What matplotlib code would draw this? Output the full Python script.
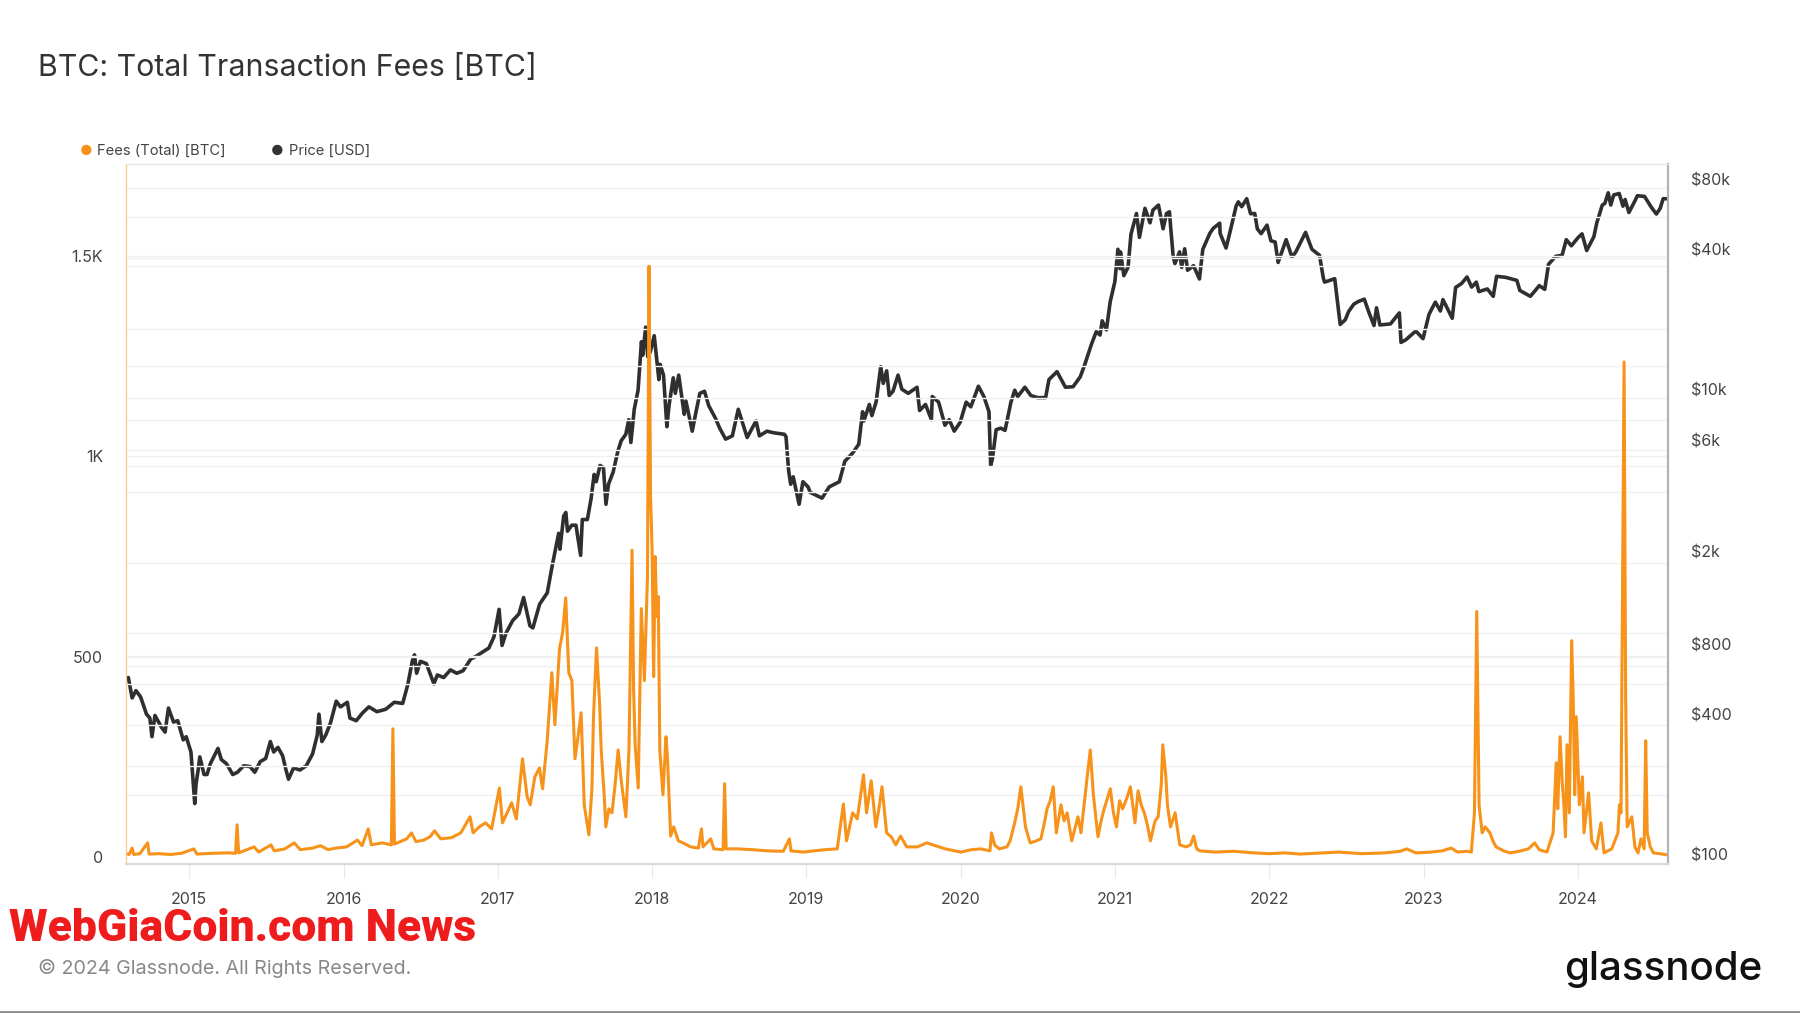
import matplotlib

matplotlib.use("Agg")
import matplotlib.pyplot as plt
import matplotlib.ticker as mticker
import pandas as pd

plt.rcParams["font.family"] = ["Inter", "DejaVu Sans"]

ORANGE = "#F7931A"
DARK = "#2f2f2f"

# BTC price [USD]
price_dates = [
    "2014-08-01", "2014-08-10", "2014-08-19", "2014-08-28", "2014-09-08", "2014-09-22", "2014-09-30",
    "2014-10-05", "2014-10-12", "2014-10-28", "2014-11-05", "2014-11-13", "2014-11-25", "2014-12-05",
    "2014-12-18", "2014-12-25", "2015-01-05", "2015-01-14", "2015-01-17", "2015-01-22", "2015-01-26",
    "2015-02-05", "2015-02-12", "2015-02-20", "2015-03-10", "2015-03-18", "2015-03-30", "2015-04-14",
    "2015-04-25", "2015-05-10", "2015-05-25", "2015-06-05", "2015-06-18", "2015-07-01", "2015-07-12",
    "2015-07-20", "2015-07-30", "2015-08-10", "2015-08-18", "2015-08-24", "2015-09-05", "2015-09-20",
    "2015-10-05", "2015-10-20", "2015-10-31", "2015-11-04", "2015-11-11", "2015-11-20", "2015-12-01",
    "2015-12-15", "2015-12-25", "2016-01-10", "2016-01-16", "2016-01-31", "2016-02-15", "2016-03-01",
    "2016-03-20", "2016-04-10", "2016-04-30", "2016-05-20", "2016-06-01", "2016-06-12", "2016-06-17",
    "2016-06-22", "2016-07-01", "2016-07-15", "2016-08-02", "2016-08-10", "2016-08-25", "2016-09-10",
    "2016-09-25", "2016-10-10", "2016-10-28", "2016-11-10", "2016-11-25", "2016-12-10", "2016-12-22",
    "2017-01-04", "2017-01-11", "2017-01-20", "2017-02-05", "2017-02-20", "2017-03-03", "2017-03-18",
    "2017-03-25", "2017-04-10", "2017-04-28", "2017-05-10", "2017-05-25", "2017-05-28", "2017-06-06",
    "2017-06-11", "2017-06-15", "2017-06-25", "2017-07-05", "2017-07-16", "2017-07-20", "2017-08-01",
    "2017-08-10", "2017-08-17", "2017-08-22", "2017-08-31", "2017-09-08", "2017-09-14", "2017-09-20",
    "2017-10-01", "2017-10-12", "2017-10-20", "2017-10-31", "2017-11-07", "2017-11-12", "2017-11-20",
    "2017-11-29", "2017-12-07", "2017-12-10", "2017-12-17", "2017-12-22", "2017-12-28", "2018-01-06",
    "2018-01-10", "2018-01-17", "2018-01-20", "2018-01-28", "2018-02-05", "2018-02-10", "2018-02-20",
    "2018-02-25", "2018-03-05", "2018-03-18", "2018-03-22", "2018-04-06", "2018-04-15", "2018-04-24",
    "2018-05-05", "2018-05-15", "2018-05-31", "2018-06-10", "2018-06-24", "2018-07-10", "2018-07-24",
    "2018-08-05", "2018-08-14", "2018-09-04", "2018-09-12", "2018-09-30", "2018-10-15", "2018-11-10",
    "2018-11-14", "2018-11-20", "2018-11-25", "2018-12-01", "2018-12-15", "2018-12-24", "2019-01-05",
    "2019-01-10", "2019-02-07", "2019-02-24", "2019-03-20", "2019-04-02", "2019-04-20", "2019-05-05",
    "2019-05-14", "2019-05-17", "2019-05-30", "2019-06-05", "2019-06-15", "2019-06-26", "2019-07-02",
    "2019-07-10", "2019-07-16", "2019-07-25", "2019-08-06", "2019-08-15", "2019-08-30", "2019-09-20",
    "2019-09-26", "2019-10-10", "2019-10-24", "2019-10-26", "2019-11-10", "2019-11-25", "2019-12-05",
    "2019-12-17", "2019-12-31", "2020-01-14", "2020-01-25", "2020-02-12", "2020-02-25", "2020-03-08",
    "2020-03-12", "2020-03-16", "2020-03-25", "2020-04-05", "2020-04-15", "2020-04-29", "2020-05-08",
    "2020-05-15", "2020-06-01", "2020-06-15", "2020-07-01", "2020-07-20", "2020-07-28", "2020-08-16",
    "2020-09-05", "2020-09-23", "2020-10-10", "2020-10-21", "2020-11-05", "2020-11-17", "2020-11-26",
    "2020-12-01", "2020-12-11", "2020-12-20", "2020-12-31", "2021-01-08", "2021-01-13", "2021-01-14",
    "2021-01-22", "2021-02-01", "2021-02-08", "2021-02-21", "2021-02-28", "2021-03-13", "2021-03-25",
    "2021-04-01", "2021-04-14", "2021-04-25", "2021-05-03", "2021-05-10", "2021-05-13", "2021-05-19",
    "2021-05-23", "2021-06-03", "2021-06-08", "2021-06-15", "2021-06-22", "2021-07-06", "2021-07-20",
    "2021-07-28", "2021-08-14", "2021-08-22", "2021-09-06", "2021-09-07", "2021-09-21", "2021-10-01",
    "2021-10-15", "2021-10-20", "2021-10-28", "2021-11-09", "2021-11-18", "2021-11-28", "2021-12-04",
    "2021-12-13", "2021-12-27", "2022-01-05", "2022-01-15", "2022-01-22", "2022-02-10", "2022-02-24",
    "2022-03-05", "2022-03-28", "2022-04-12", "2022-04-30", "2022-05-09", "2022-05-12", "2022-05-20",
    "2022-06-05", "2022-06-13", "2022-06-18", "2022-06-30", "2022-07-08", "2022-07-20", "2022-07-30",
    "2022-08-14", "2022-08-25", "2022-09-06", "2022-09-12", "2022-09-20", "2022-10-15", "2022-11-05",
    "2022-11-09", "2022-11-20", "2022-12-14", "2022-12-31", "2023-01-14", "2023-01-29", "2023-02-10",
    "2023-02-16", "2023-03-10", "2023-03-18", "2023-04-01", "2023-04-14", "2023-04-25", "2023-05-06",
    "2023-05-12", "2023-06-01", "2023-06-15", "2023-06-23", "2023-07-14", "2023-08-10", "2023-08-17",
    "2023-09-11", "2023-10-02", "2023-10-15", "2023-10-24", "2023-11-10", "2023-11-25", "2023-12-05",
    "2023-12-17", "2024-01-02", "2024-01-11", "2024-01-22", "2024-02-08", "2024-02-15", "2024-02-28",
    "2024-03-05", "2024-03-13", "2024-03-19", "2024-03-26", "2024-04-08", "2024-04-17", "2024-04-22",
    "2024-05-01", "2024-05-15", "2024-05-21", "2024-06-07", "2024-06-24", "2024-07-05", "2024-07-14",
    "2024-07-21", "2024-07-29",
]
price_usd = [
    560, 575, 470, 505, 475, 400, 385,
    320, 395, 350, 335, 425, 370, 375,
    310, 320, 275, 165, 200, 230, 262,
    220, 220, 245, 285, 255, 245, 220,
    225, 240, 238, 225, 250, 258, 305,
    275, 288, 265, 230, 210, 235, 230,
    240, 270, 325, 400, 305, 325, 365,
    455, 430, 450, 385, 375, 405, 430,
    410, 420, 450, 445, 535, 680, 720,
    600, 675, 660, 540, 590, 575, 620,
    600, 615, 690, 710, 740, 770, 860,
    1130, 790, 890, 1010, 1080, 1270, 960,
    940, 1190, 1330, 1750, 2400, 2050, 2850,
    2950, 2450, 2600, 2600, 1930, 2750, 2750,
    3400, 4300, 4000, 4700, 4600, 3200, 3900,
    4400, 5400, 6000, 6400, 7400, 5900, 8200,
    9900, 16000, 14000, 18500, 13800, 14500, 17000,
    14500, 11000, 12800, 11500, 6900, 8500, 11200,
    9600, 11500, 7800, 8900, 6600, 8000, 9600,
    9800, 8500, 7500, 6800, 6100, 6300, 8200,
    7000, 6200, 7300, 6300, 6600, 6500, 6400,
    6250, 4500, 3900, 4200, 3200, 4000, 3800,
    3600, 3400, 3800, 4000, 4900, 5300, 5800,
    8000, 7300, 8600, 7700, 8800, 12500, 10600,
    12000, 9400, 9800, 11500, 10000, 9600, 10200,
    8100, 8600, 7400, 9300, 8800, 7000, 7400,
    6600, 7200, 8800, 8400, 10300, 9300, 8000,
    4700, 5000, 6700, 6800, 6650, 8800, 9900,
    9300, 10200, 9400, 9200, 9200, 11000, 11900,
    10200, 10250, 11300, 12800, 15500, 17700, 17100,
    19700, 18000, 23800, 29000, 40000, 33000, 39000,
    30800, 33500, 46500, 57000, 45000, 60000, 52000,
    59000, 62000, 49000, 57000, 58000, 49500, 37000,
    34700, 39000, 33400, 40200, 32500, 34000, 29800,
    40000, 47000, 49300, 51800, 46800, 40500, 48000,
    61500, 64000, 61000, 66000, 56900, 57000, 49000,
    46700, 50800, 43500, 43000, 35100, 44000, 37000,
    39000, 47300, 40000, 37700, 30100, 28900, 29200,
    29900, 22500, 19000, 19900, 21600, 23200, 23800,
    24400, 21400, 18800, 22400, 18900, 19100, 21300,
    15900, 16300, 17800, 16500, 21000, 23700, 21700,
    24300, 20200, 27400, 28500, 30400, 27500, 28900,
    26300, 27000, 25100, 30600, 30300, 29400, 26600,
    25100, 27900, 26900, 34500, 37300, 37700, 44000,
    41400, 45000, 46600, 39500, 45300, 52000, 62000,
    63000, 70000, 62000, 68500, 69500, 61300, 65500,
    57600, 64500, 68000, 67500, 60300, 56700, 60000,
    66000, 66000,
]

# total daily fees [BTC] (decimal years)
fee_t = [
    2014.59, 2014.61, 2014.63, 2014.64, 2014.68, 2014.73, 2014.74, 2014.80, 2014.88, 2014.95,
    2015.03, 2015.05, 2015.15, 2015.25, 2015.30, 2015.31, 2015.32, 2015.42, 2015.45, 2015.53,
    2015.55, 2015.62, 2015.68, 2015.72, 2015.80, 2015.85, 2015.90, 2015.95, 2016.02, 2016.09,
    2016.12, 2016.16, 2016.18, 2016.25, 2016.31, 2016.32, 2016.33, 2016.38, 2016.41, 2016.44,
    2016.47, 2016.52, 2016.56, 2016.59, 2016.63, 2016.70, 2016.76, 2016.82, 2016.84, 2016.88,
    2016.92, 2016.96, 2017.01, 2017.03, 2017.06, 2017.09, 2017.12, 2017.16, 2017.19, 2017.21,
    2017.24, 2017.27, 2017.29, 2017.32, 2017.35, 2017.37, 2017.40, 2017.42, 2017.44, 2017.46,
    2017.48, 2017.50, 2017.52, 2017.54, 2017.56, 2017.59, 2017.61, 2017.62, 2017.64, 2017.66,
    2017.67, 2017.69, 2017.70, 2017.72, 2017.74, 2017.76, 2017.78, 2017.80, 2017.83, 2017.85,
    2017.87, 2017.88, 2017.89, 2017.91, 2017.92, 2017.93, 2017.95, 2017.97, 2017.98, 2017.99,
    2018.00, 2018.01, 2018.02, 2018.03, 2018.04, 2018.05, 2018.07, 2018.09, 2018.10, 2018.12,
    2018.14, 2018.17, 2018.20, 2018.25, 2018.30, 2018.32, 2018.33, 2018.38, 2018.40, 2018.46,
    2018.47, 2018.48, 2018.55, 2018.65, 2018.75, 2018.85, 2018.89, 2018.90, 2018.98, 2019.05,
    2019.12, 2019.20, 2019.24, 2019.26, 2019.28, 2019.30, 2019.33, 2019.35, 2019.37, 2019.39,
    2019.42, 2019.45, 2019.47, 2019.49, 2019.52, 2019.55, 2019.58, 2019.61, 2019.65, 2019.72,
    2019.78, 2019.82, 2019.90, 2020.00, 2020.07, 2020.13, 2020.19, 2020.20, 2020.22, 2020.25,
    2020.30, 2020.32, 2020.35, 2020.37, 2020.39, 2020.42, 2020.45, 2020.49, 2020.52, 2020.54,
    2020.56, 2020.58, 2020.60, 2020.62, 2020.65, 2020.67, 2020.69, 2020.72, 2020.74, 2020.76,
    2020.78, 2020.80, 2020.82, 2020.84, 2020.86, 2020.89, 2020.91, 2020.93, 2020.97, 2020.99,
    2021.01, 2021.03, 2021.05, 2021.08, 2021.10, 2021.13, 2021.15, 2021.17, 2021.19, 2021.21,
    2021.23, 2021.26, 2021.28, 2021.30, 2021.31, 2021.33, 2021.34, 2021.36, 2021.39, 2021.42,
    2021.46, 2021.49, 2021.51, 2021.53, 2021.55, 2021.65, 2021.77, 2021.90, 2022.00, 2022.10,
    2022.20, 2022.35, 2022.45, 2022.60, 2022.75, 2022.85, 2022.89, 2022.95, 2023.05, 2023.12,
    2023.18, 2023.22, 2023.28, 2023.31, 2023.33, 2023.345, 2023.36, 2023.38, 2023.40, 2023.43,
    2023.45, 2023.47, 2023.52, 2023.56, 2023.62, 2023.68, 2023.72, 2023.75, 2023.80, 2023.84,
    2023.86, 2023.87, 2023.885, 2023.90, 2023.91, 2023.92, 2023.93, 2023.945, 2023.96, 2023.97,
    2023.98, 2023.99, 2024.01, 2024.03, 2024.04, 2024.07, 2024.09, 2024.12, 2024.15, 2024.17,
    2024.22, 2024.26, 2024.27, 2024.28, 2024.30, 2024.31, 2024.32, 2024.35, 2024.37, 2024.39,
    2024.41, 2024.43, 2024.44, 2024.45, 2024.47, 2024.49, 2024.53, 2024.58,
]
fee_btc = [
    8, 6, 22, 6, 8, 35, 7, 8, 6, 9,
    20, 7, 9, 10, 9, 80, 10, 25, 12, 30,
    15, 20, 35, 18, 22, 28, 18, 22, 25, 42,
    28, 70, 30, 35, 30, 320, 32, 40, 45, 60,
    38, 42, 50, 65, 45, 48, 60, 100, 60, 75,
    85, 70, 172, 85, 110, 135, 95, 245, 150, 130,
    200, 222, 170, 290, 460, 330, 520, 560, 647, 460,
    440, 245, 300, 360, 130, 55, 170, 350, 522, 380,
    267, 150, 75, 120, 110, 180, 267, 190, 100, 267,
    766, 420, 280, 172, 400, 620, 440, 700, 1475, 900,
    766, 450, 750, 600, 650, 267, 155, 300, 245, 52,
    75, 40, 35, 25, 22, 70, 25, 45, 20, 18,
    183, 20, 20, 18, 15, 14, 45, 15, 12, 15,
    18, 20, 132, 40, 75, 110, 95, 150, 205, 110,
    190, 75, 120, 175, 60, 50, 30, 52, 25, 25,
    35, 30, 20, 12, 18, 20, 15, 60, 30, 20,
    25, 40, 85, 120, 175, 75, 35, 40, 45, 80,
    120, 140, 175, 60, 130, 90, 110, 40, 70, 100,
    60, 130, 200, 267, 155, 50, 90, 120, 170, 110,
    75, 140, 120, 150, 175, 85, 165, 130, 110, 80,
    40, 90, 100, 180, 280, 200, 130, 75, 110, 30,
    25, 30, 52, 20, 15, 12, 14, 10, 8, 10,
    7, 10, 12, 8, 10, 14, 20, 10, 12, 15,
    22, 12, 14, 12, 110, 613, 130, 60, 75, 60,
    40, 25, 15, 10, 14, 20, 35, 18, 12, 60,
    235, 120, 300, 180, 130, 50, 280, 110, 540, 400,
    155, 350, 130, 200, 60, 160, 40, 20, 85, 10,
    20, 60, 130, 110, 1236, 400, 75, 100, 25, 10,
    45, 20, 290, 60, 25, 10, 8, 5,
]

year_ticks = list(range(2015, 2025))
fee_ticks = [0, 500, 1000, 1500]
fee_tick_labels = ["0", "500", "1K", "1.5K"]
price_ticks = [100, 400, 800, 2000, 6000, 10000, 40000, 80000]
price_tick_labels = ["$100", "$400", "$800", "$2k", "$6k", "$10k", "$40k", "$80k"]
# faint horizontal grid levels seen in the chart (fee units)
grid_levels = [155, 227, 330, 432, 477, 502, 560, 735, 912, 975, 1015, 1090, 1145, 1227,
               1317, 1475, 1495, 1597, 1670]

ts = pd.to_datetime(pd.Series(price_dates))
price_t = (ts.dt.year + (ts.dt.dayofyear - 1) / 365.25).tolist()

fig = plt.figure(figsize=(18, 10.13), dpi=100)
ax = fig.add_axes([0.070, 0.147, 0.8567, 0.691])
ax2 = ax.twinx()
ax.set_zorder(ax2.get_zorder() + 1)
ax.patch.set_visible(False)

ax2.plot(price_t, price_usd, color=DARK, lw=2.6, solid_joinstyle="round")
ax.plot(fee_t, fee_btc, color=ORANGE, lw=2.2, solid_joinstyle="round")

ax.set_xlim(2014.59, 2024.585)
ax.set_ylim(-18, 1730)
ax2.set_yscale("log")
ax2.set_ylim(90.6, 93000)

for g in grid_levels + fee_ticks[1:]:
    ax.axhline(g, color="#f0f0f0", lw=1.0, zorder=0)

ax.set_xticks(year_ticks)
ax.set_xticklabels([str(y) for y in year_ticks])
ax.set_yticks(fee_ticks)
ax.set_yticklabels(fee_tick_labels)
ax2.yaxis.set_major_locator(mticker.FixedLocator(price_ticks))
ax2.yaxis.set_minor_locator(mticker.NullLocator())
ax2.set_yticklabels(price_tick_labels)

ax.tick_params(axis="x", length=10, color="#e8e8e8", pad=10, labelsize=11.5, labelcolor="#444444")
ax.tick_params(axis="y", length=0, pad=16.5, labelsize=11.5, labelcolor="#444444")
ax2.tick_params(axis="y", which="both", length=0, pad=16.5, labelsize=11.5, labelcolor="#444444")

for a in (ax, ax2):
    a.spines["top"].set_color("#e6e6e6")
    a.spines["bottom"].set_color("#d9d9d9")
    a.spines["bottom"].set_linewidth(1.5)
    a.spines["right"].set_color("#b3b3b3")
    a.spines["right"].set_linewidth(1.5)
    a.spines["left"].set_color("#fbc98a")

# title and legend
fig.text(0.021, 0.933, "BTC: Total Transaction Fees [BTC]", fontsize=21.8, color="#333333",
         va="center", ha="left")
fig.text(0.0478, 0.851, "●", fontsize=10, color=ORANGE, va="center", ha="center")
fig.text(0.054, 0.851, "Fees (Total) [BTC]", fontsize=10.6, color="#444444", va="center")
fig.text(0.1538, 0.851, "●", fontsize=10, color="#333333", va="center", ha="center")
fig.text(0.1605, 0.851, "Price [USD]", fontsize=10.6, color="#444444", va="center")

# footer
fig.text(0.005, 0.083, "WebGiaCoin.com News", fontsize=32, color="#ee1c1c", weight="heavy",
         family=["Roboto", "DejaVu Sans"], va="center", ha="left")
fig.text(0.021, 0.044, "© 2024 Glassnode. All Rights Reserved.", fontsize=14.2, color="#888888",
         va="center", ha="left")
fig.text(0.979, 0.043, "glassnode", fontsize=29, color="#111111", weight="medium",
         va="center", ha="right")
fig.add_artist(plt.Line2D([0, 1], [0.001, 0.001], color="#8c8c8c", lw=2, transform=fig.transFigure))

fig.savefig("out.png", dpi=100, facecolor="white")
